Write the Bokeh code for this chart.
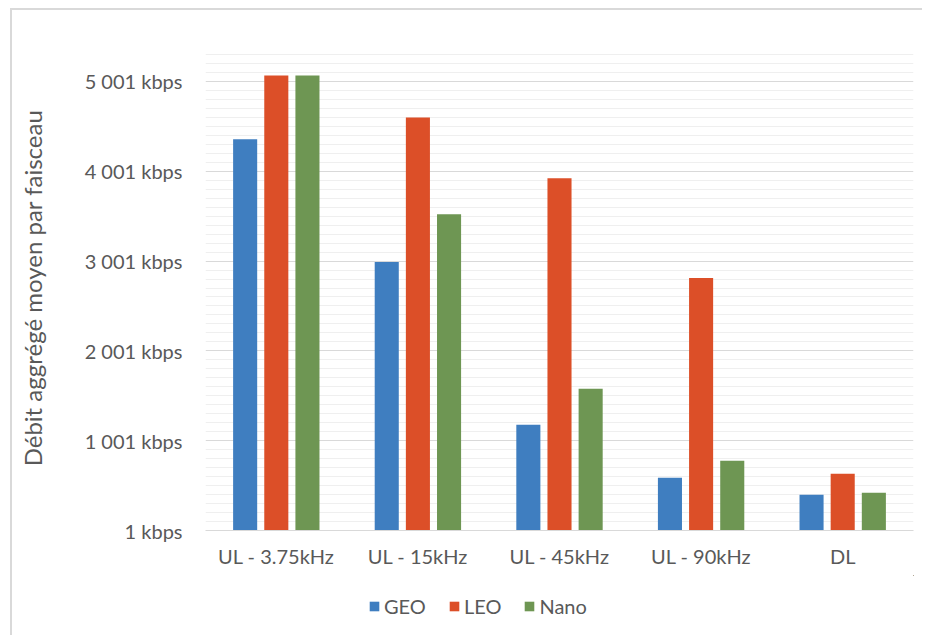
from bokeh.plotting import figure
from bokeh.layouts import column
from bokeh.models import FixedTicker, Range1d, Legend, LegendItem, ColumnDataSource
from bokeh.transform import dodge
from bokeh.embed import file_html
from bokeh.resources import INLINE

categories = ["UL - 3.75kHz", "UL - 15kHz", "UL - 45kHz", "UL - 90kHz", "DL"]
series_names = ["GEO", "LEO", "Nano"]
geo = [4356, 2990, 1178, 589, 400]
leo = [5068, 4600, 3922, 2811, 633]
nano = [5068, 3522, 1578, 778, 422]
y_ticks = [1, 1001, 2001, 3001, 4001, 5001]
y_tick_labels = ["1 kbps", "1 001 kbps", "2 001 kbps", "3 001 kbps", "4 001 kbps", "5 001 kbps"]
y_minor = [v for v in range(101, 5402, 100) if v not in y_ticks]
colors = ["#3F7EC0", "#DC4F28", "#6E9653"]

FONT = "Lato"
TXT = "#595959"
W = 910

src = ColumnDataSource(dict(cat=categories, GEO=geo, LEO=leo, Nano=nano))

p = figure(x_range=categories, y_range=Range1d(1, 5401), width=W, height=565,
           output_backend="svg", toolbar_location=None,
           min_border_left=193, min_border_right=9, min_border_top=35, min_border_bottom=45)
p.x_range.range_padding = 0

offsets = [-0.22, 0.0, 0.22]
for name, off, c in zip(series_names, offsets, colors):
    p.vbar(x=dodge("cat", off, range=p.x_range), top=name, bottom=1, width=0.17,
           source=src, fill_color=c, line_color=None)

p.outline_line_color = None
p.background_fill_color = "white"
p.border_fill_color = "white"

p.xgrid.grid_line_color = None
p.ygrid.ticker = FixedTicker(ticks=y_ticks, minor_ticks=y_minor)
p.ygrid.grid_line_color = "#d9d9d9"
p.ygrid.grid_line_width = 1
p.ygrid.minor_grid_line_color = "#efefef"
p.ygrid.minor_grid_line_width = 1

p.yaxis.ticker = FixedTicker(ticks=y_ticks)
p.yaxis.major_label_overrides = {t: l for t, l in zip(y_ticks, y_tick_labels)}
p.yaxis.axis_line_color = None
p.yaxis.major_tick_line_color = None
p.yaxis.minor_tick_line_color = None
p.yaxis.major_label_text_font = FONT
p.yaxis.major_label_text_font_size = "20px"
p.yaxis.major_label_text_color = TXT
p.yaxis.major_label_standoff = 17
p.yaxis.axis_label = "Débit aggrégé moyen par faisceau"
p.yaxis.axis_label_text_font = FONT
p.yaxis.axis_label_text_font_style = "normal"
p.yaxis.axis_label_text_font_size = "24px"
p.yaxis.axis_label_text_color = TXT
p.yaxis.axis_label_standoff = 35

p.xaxis.axis_line_color = "#d9d9d9"
p.xaxis.major_tick_line_color = None
p.xaxis.minor_tick_line_color = None
p.xaxis.major_label_text_font = FONT
p.xaxis.major_label_text_font_size = "20px"
p.xaxis.major_label_text_color = TXT
p.xaxis.major_label_standoff = 7

# legend strip below the chart (its bars lie far outside its visible range)
p2 = figure(width=W, height=60, x_range=categories, y_range=Range1d(-2, -1),
            x_axis_type=None, y_axis_type=None, output_backend="svg", toolbar_location=None,
            min_border_left=0, min_border_right=0, min_border_top=0, min_border_bottom=0)
p2.outline_line_color = None
p2.xgrid.grid_line_color = None
p2.ygrid.grid_line_color = None
p2.background_fill_color = "white"
p2.border_fill_color = "white"
items = []
for name, c in zip(series_names, colors):
    r = p2.vbar(x=dodge("cat", 100, range=p2.x_range), top=name, bottom=1, width=0.001,
                source=src, fill_color=c, line_color=None)
    items.append(LegendItem(label=name, renderers=[r]))
legend = Legend(items=items, orientation="horizontal", location=(163, 17),
                label_text_font=FONT, label_text_font_size="20px", label_text_color=TXT,
                glyph_width=12, glyph_height=12, spacing=22, label_standoff=4,
                border_line_color=None, background_fill_alpha=0, padding=4, margin=0)
p2.add_layout(legend, "center")

layout = column(p, p2, spacing=0)
layout.styles = {"border-left": "2px solid #d9d9d9", "border-top": "2px solid #d9d9d9",
                 "margin-left": "10px", "margin-top": "8px"}

open("out.html", "w").write(file_html(layout, INLINE))
